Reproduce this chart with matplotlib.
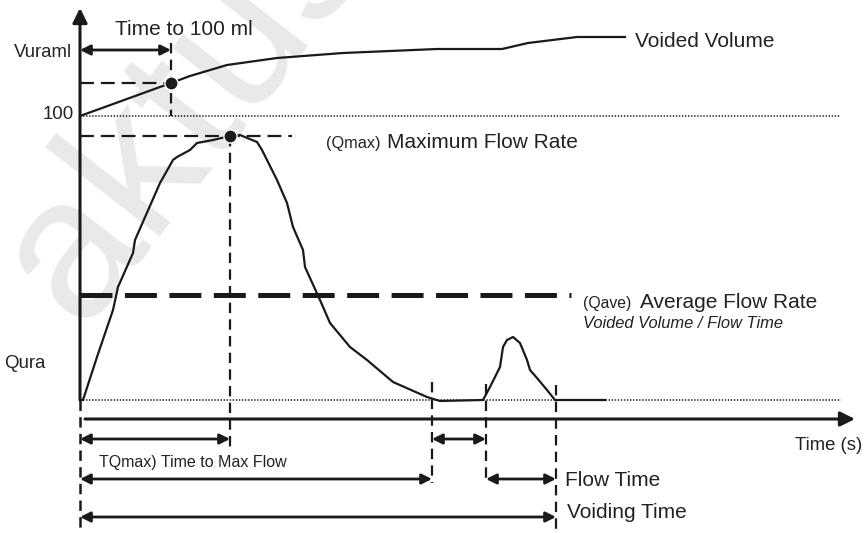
import matplotlib
matplotlib.use('Agg')
import matplotlib.pyplot as plt

plt.rcParams['font.family'] = ['Liberation Sans', 'DejaVu Sans']
plt.rcParams['lines.scale_dashes'] = False

INK = '#1a1a1a'

# flow curve: time (s) vs flow rate (ml/s)
flow_t = [0.2, 0.3, 1.7, 3.3, 3.8, 5.3, 5.5, 8.0, 9.3, 9.7, 11.0, 11.7, 13.3, 15.0,
          16.0, 17.7, 18.2, 19.7, 20.7, 21.3, 22.3, 22.5, 24.0, 25.0, 27.0, 28.7,
          31.3, 34.7, 36.0, 40.3, 41.0, 42.0, 42.3, 42.7, 43.3, 44.0, 44.7, 45.0,
          45.7, 46.7, 47.5, 52.5]
flow_q = [0.0, 0.0, 4.3, 9.0, 11.3, 14.7, 16.0, 21.7, 24.0, 24.3, 25.0, 25.7, 26.0, 26.4,
          26.5, 25.8, 25.0, 22.0, 19.7, 17.3, 15.0, 13.3, 10.0, 7.7, 5.3, 4.0,
          1.8, 0.3, -0.1, 0.0, 1.3, 3.3, 5.3, 6.0, 6.3, 5.7, 4.0, 3.0,
          2.2, 1.0, 0.0, 0.0]

# voided volume curve (drawn above the 100 ml line)
vol_t = [0.0, 9.1, 11.0, 14.7, 19.7, 26.3, 35.7, 42.2, 44.8, 49.7, 54.5]
vol_y = [28.4, 31.7, 32.4, 33.5, 34.2, 34.7, 35.1, 35.1, 35.7, 36.3, 36.3]

level_100 = 28.4
t_100 = 9.1
vol_at_100 = 31.7
t_qmax = 15.0
q_max = 26.4
q_ave = 10.5
t_pause_start = 35.2
t_pause_end = 40.6
t_end = 47.6

fig = plt.figure(figsize=(8.67, 5.33), dpi=100)
ax = fig.add_axes([0, 0, 1, 1])
ax.set_xlim(-8.0, 78.7)
ax.set_ylim(-13.3, 40.0)
ax.set_axis_off()

# watermark
ax.text(0.0, 7.2, 'aktus', fontsize=145, color='#e9e9e9', rotation=52,
        rotation_mode='anchor', ha='left', va='baseline', zorder=0)

# axes with arrow heads
ax.annotate('', xy=(0, 39.2), xytext=(0, 0),
            arrowprops=dict(arrowstyle='-|>', lw=2.2, color=INK, mutation_scale=22,
                            shrinkA=0, shrinkB=0))
ax.annotate('', xy=(77.5, -1.9), xytext=(0.5, -1.9),
            arrowprops=dict(arrowstyle='-|>', lw=2.2, color=INK, mutation_scale=22,
                            shrinkA=0, shrinkB=0))

# dotted reference lines
ax.plot([0, 76.1], [0, 0], color=INK, lw=1.1, ls=(0, (1, 1.2)))
ax.plot([0, 76.0], [level_100, level_100], color=INK, lw=1.1, ls=(0, (1, 1.2)))

# curves
ax.plot(flow_t, flow_q, color=INK, lw=1.6, zorder=3)
ax.plot(vol_t, vol_y, color=INK, lw=1.6, zorder=3)

# dashed guide lines
dash = (0, (7.5, 4.5))
ax.plot([0, t_100], [vol_at_100, vol_at_100], color=INK, lw=1.6, ls=(0, (10, 5)))
ax.plot([t_100, t_100], [35.7, level_100], color=INK, lw=1.6, ls=dash)
ax.plot([0, 21.2], [q_max, q_max], color=INK, lw=1.6, ls=(0, (10, 5)))
ax.plot([t_qmax, t_qmax], [q_max, -4.7], color=INK, lw=1.6, ls=dash)
ax.plot([0, 49.1], [q_ave, q_ave], color=INK, lw=3.6, ls=(0, (23, 9)), solid_capstyle='butt')
ax.plot([0, 0], [0, -13.3], color=INK, lw=1.8, ls=dash)
ax.plot([t_pause_start, t_pause_start], [1.8, -8.3], color=INK, lw=1.6, ls=dash)
ax.plot([t_pause_end, t_pause_end], [1.6, -8.3], color=INK, lw=1.6, ls=dash)
ax.plot([t_end, t_end], [1.5, -13.3], color=INK, lw=1.6, ls=dash)

# markers
ax.plot([t_100], [vol_at_100], 'o', color=INK, ms=9.5, mec='white', mew=1.0, zorder=5)
ax.plot([t_qmax], [q_max], 'o', color=INK, ms=9.5, mec='white', mew=1.0, zorder=5)


def span(t0, t1, y):
    ax.annotate('', xy=(t1, y), xytext=(t0, y),
                arrowprops=dict(arrowstyle='<|-|>', lw=2.0, color=INK,
                                mutation_scale=15, shrinkA=0, shrinkB=0))


span(0, t_100, 35.0)
span(0, t_qmax, -3.9)
span(t_pause_start, t_pause_end, -3.9)
span(0, t_pause_start, -7.9)
span(t_pause_end, t_end, -7.9)
span(0, t_end, -11.7)

TXT = '#222222'
ax.text(10.4, 37.0, 'Time to 100 ml', fontsize=15, color=TXT, ha='center', va='center')
ax.text(-0.8, 34.7, 'Vuraml', fontsize=13.4, color=TXT, ha='right', va='center')
ax.text(-0.6, 28.5, '100', fontsize=13.4, color=TXT, ha='right', va='center')
ax.text(-7.6, 3.7, 'Qura', fontsize=13.4, color=TXT, ha='left', va='center')
ax.text(55.5, 35.8, 'Voided Volume', fontsize=15, color=TXT, ha='left', va='center')
ax.text(24.6, 25.2, '(Qmax)', fontsize=11.7, color=TXT, ha='left', va='baseline')
ax.text(30.7, 25.2, 'Maximum Flow Rate', fontsize=15, color=TXT, ha='left', va='baseline')
ax.text(50.3, 9.2, '(Qave)', fontsize=11.3, color=TXT, ha='left', va='baseline')
ax.text(56.0, 9.2, 'Average Flow Rate', fontsize=15, color=TXT, ha='left', va='baseline')
ax.text(50.3, 7.2, 'Voided Volume / Flow Time', fontsize=11.9, color=TXT,
        style='italic', ha='left', va='baseline')
ax.text(78.2, -4.5, 'Time (s)', fontsize=13.3, color=TXT, ha='right', va='center')
ax.text(1.9, -6.3, 'TQmax) Time to Max Flow', fontsize=11.5, color=TXT, ha='left', va='center')
ax.text(48.5, -8.0, 'Flow Time', fontsize=15, color=TXT, ha='left', va='center')
ax.text(48.7, -11.3, 'Voiding Time', fontsize=15, color=TXT, ha='left', va='center')

fig.savefig('out.png', dpi=100, facecolor='white')
